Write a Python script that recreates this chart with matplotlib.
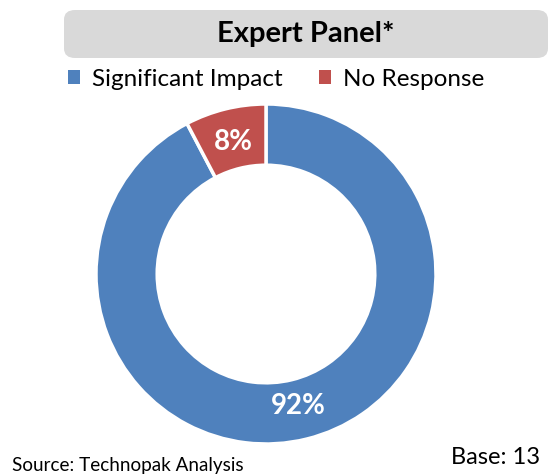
import matplotlib.pyplot as plt
from matplotlib.patches import FancyBboxPatch, Patch

labels = ['Significant Impact', 'No Response']
values = [12, 1]
colors = ['#4f81bd', '#c0504d']

plt.rcParams['font.family'] = ['Lato', 'DejaVu Sans']

W, H = 556, 476
fig = plt.figure(figsize=(W / 100, H / 100), dpi=100)

# title box
box = FancyBboxPatch((64 / W, 1 - 58 / H), (548 - 64) / W, 48 / H,
                     boxstyle='round,pad=0,rounding_size=0.02',
                     transform=fig.transFigure, facecolor='#d9d9d9',
                     edgecolor='none')
fig.patches.append(box)
fig.text(306 / W, 1 - 34 / H, 'Expert Panel*', ha='center', va='center',
         fontsize=21, fontweight='bold')

# donut
cx, cy, r = 266, 274, 170
ax = fig.add_axes([(cx - r) / W, (H - cy - r) / H, 2 * r / W, 2 * r / H])
wedges, _, autotexts = ax.pie(values, colors=colors, startangle=90,
                              counterclock=False, radius=1,
                              autopct=lambda p: '%.0f%%' % p,
                              pctdistance=0.80,
                              wedgeprops=dict(width=0.36, edgecolor='white',
                                              linewidth=2.5))
for t in autotexts:
    t.set_color('white')
    t.set_fontsize(20)
    t.set_fontweight('bold')
ax.set_xlim(-1, 1)
ax.set_ylim(-1, 1)
ax.set_aspect('equal')
ax.axis('off')

handles = [Patch(facecolor=c, edgecolor='none') for c in colors]
fig.legend(handles, labels, loc='center', bbox_to_anchor=(276 / W, 1 - 79 / H),
           ncol=2, frameon=False, fontsize=17.5, handlelength=0.5,
           handleheight=0.5, handletextpad=0.5, columnspacing=1.5)

fig.text(12 / W, 1 - 466 / H, 'Source: Technopak Analysis', ha='left',
         va='center', fontsize=13.6)
fig.text(540 / W, 1 - 458 / H, 'Base: 13', ha='right', va='center',
         fontsize=17)

fig.savefig('out.png', dpi=100)
